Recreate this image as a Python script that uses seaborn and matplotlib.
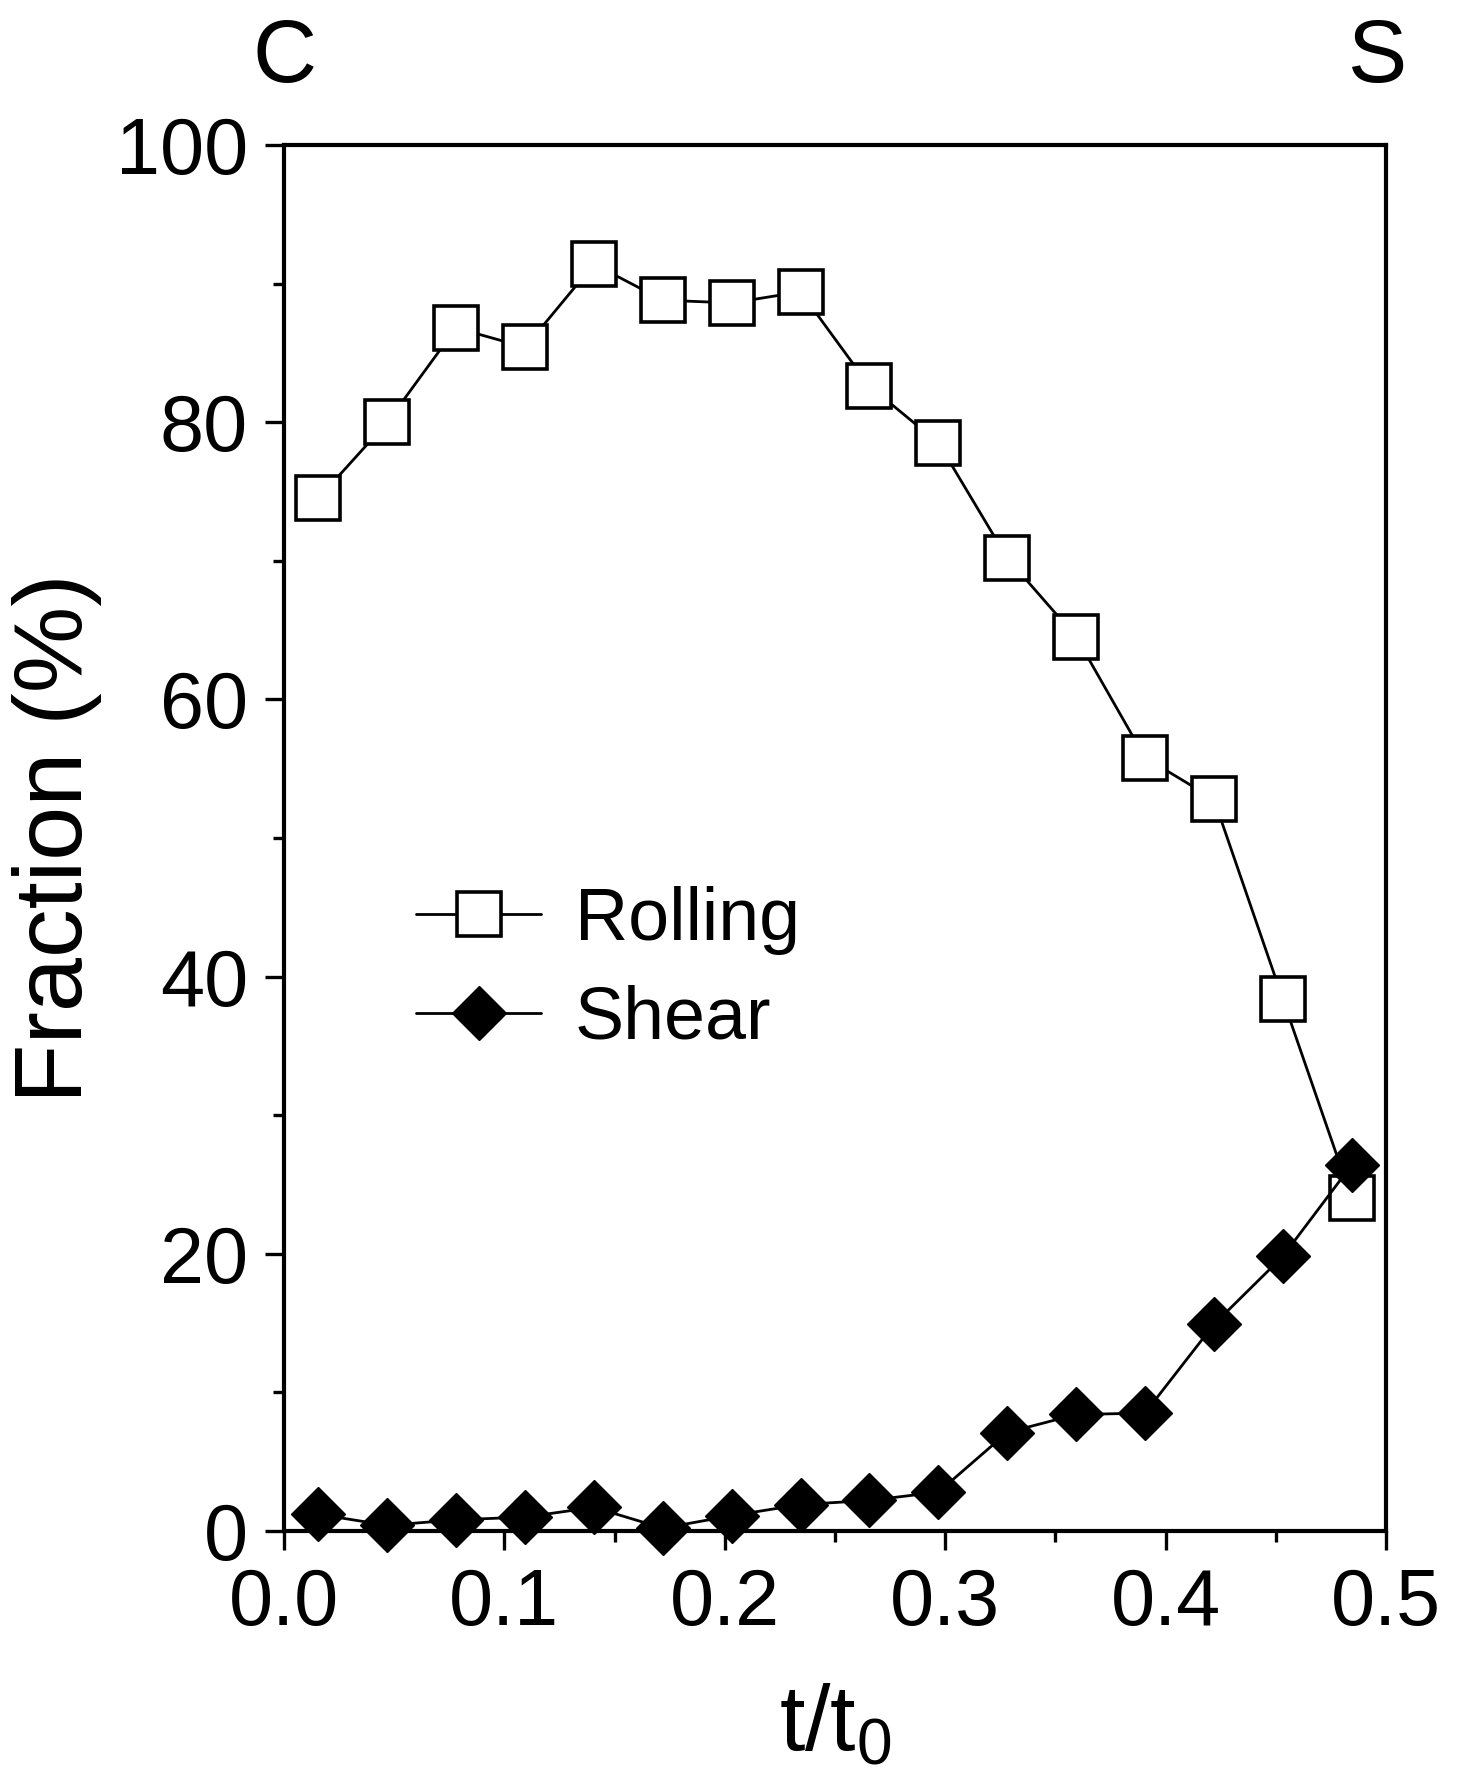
import numpy as np
import pandas as pd
import seaborn as sns
import matplotlib
matplotlib.use("Agg")
import matplotlib.pyplot as plt
from matplotlib.ticker import MultipleLocator

# data
t_ratio = [0.0156, 0.0469, 0.0781, 0.1094, 0.1406, 0.1719, 0.2031, 0.2344,
           0.2656, 0.2969, 0.3281, 0.3594, 0.3906, 0.4219, 0.4531, 0.4844]
rolling = [74.5, 80.0, 86.8, 85.4, 91.4, 88.8, 88.6, 89.4,
           82.6, 78.5, 70.2, 64.5, 55.8, 52.8, 38.4, 24.0]
shear = [1.2, 0.4, 0.8, 1.0, 1.7, 0.2, 1.1, 1.9,
         2.2, 2.8, 7.1, 8.4, 8.5, 14.9, 19.8, 26.4]
series_names = ["Rolling", "Shear"]
x_ticks = [0.0, 0.1, 0.2, 0.3, 0.4, 0.5]
y_ticks = [0, 20, 40, 60, 80, 100]

sns.set_theme(style="ticks")
plt.rcParams["font.family"] = ["Liberation Sans", "DejaVu Sans"]
plt.rcParams["mathtext.fontset"] = "custom"
plt.rcParams["mathtext.rm"] = "Liberation Sans"
plt.rcParams["text.color"] = "black"
plt.rcParams["axes.labelcolor"] = "black"
plt.rcParams["xtick.color"] = "black"
plt.rcParams["ytick.color"] = "black"

df = pd.DataFrame({"t": t_ratio, "Rolling": rolling, "Shear": shear})

fig = plt.figure(figsize=(14.61, 17.87), dpi=100)
ax = fig.add_axes([0.1944, 0.1433, 0.7543, 0.7756])

sns.lineplot(data=df, x="t", y="Rolling", ax=ax, color="black", lw=2.0,
             marker="s", markersize=31, markerfacecolor="white",
             markeredgecolor="black", markeredgewidth=2.6,
             label=series_names[0], clip_on=False, zorder=3)
sns.lineplot(data=df, x="t", y="Shear", ax=ax, color="black", lw=2.0,
             marker="D", markersize=27, markerfacecolor="black",
             markeredgecolor="black", markeredgewidth=1,
             label=series_names[1], clip_on=False, zorder=4)

ax.set_xlim(0, 0.5)
ax.set_ylim(0, 100)
ax.set_xticks(x_ticks)
ax.set_xticklabels([f"{v:.1f}" for v in x_ticks])
ax.set_yticks(y_ticks)
ax.xaxis.set_minor_locator(MultipleLocator(0.05))
ax.yaxis.set_minor_locator(MultipleLocator(10))

for side in ["left", "right", "top", "bottom"]:
    ax.spines[side].set_visible(True)
    ax.spines[side].set_linewidth(3.0)
    ax.spines[side].set_color("black")

ax.tick_params(which="major", direction="out", length=14, width=2.4,
               labelsize=57, pad=12, colors="black")
ax.tick_params(which="minor", direction="out", length=8, width=2.4, colors="black")
ax.tick_params(axis="x", which="both", top=False)
ax.tick_params(axis="y", which="both", right=False)

ax.set_xlabel(r"$\mathregular{t/t_0}$", fontsize=66, labelpad=30)
ax.set_ylabel("Fraction (%)", fontsize=70, labelpad=10)

leg = ax.legend(loc="center left", bbox_to_anchor=(0.12, 0.405),
                frameon=False, fontsize=53, handlelength=1.7,
                handletextpad=0.45, labelspacing=0.4, borderpad=0,
                borderaxespad=0)
for txt in leg.get_texts():
    txt.set_color("black")

fig.text(0.195, 0.967, "C", fontsize=64, ha="center", va="center")
fig.text(0.943, 0.967, "S", fontsize=64, ha="center", va="center")

fig.savefig("out.png", dpi=100, facecolor="white")
